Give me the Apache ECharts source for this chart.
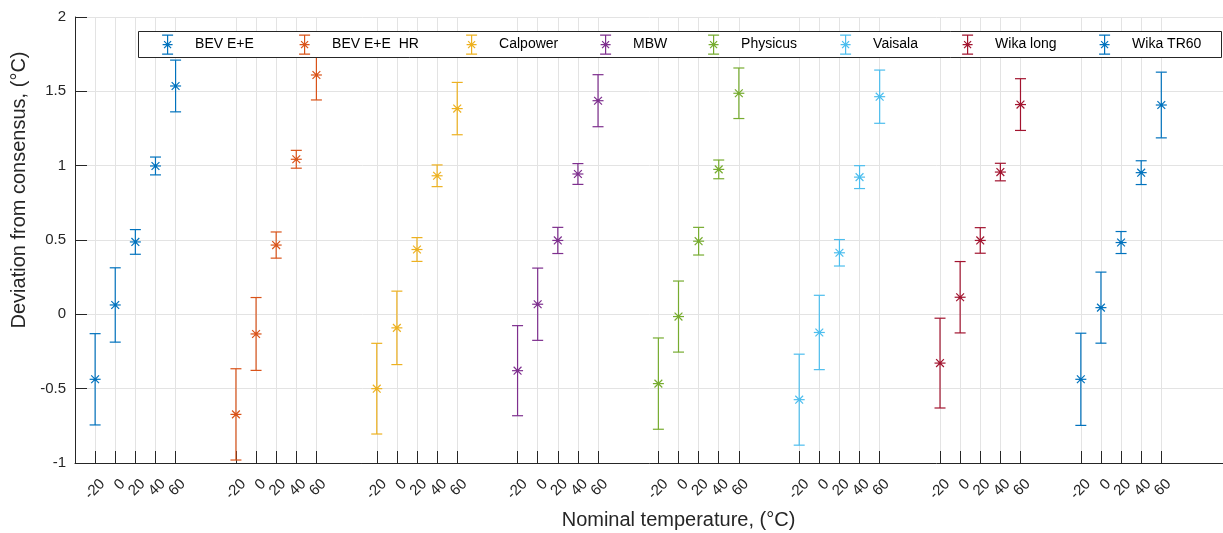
<!DOCTYPE html>
<html><head><meta charset="utf-8">
<script src="https://cdn.jsdelivr.net/npm/echarts@6/dist/echarts.min.js"></script>
<style>html,body{margin:0;padding:0;background:#fff}#c{width:1223px;height:533px}</style>
</head><body><div id="c"></div>
<script>
// ---- data ----
const seriesNames = ['BEV E+E', 'BEV E+E  HR', 'Calpower', 'MBW', 'Physicus', 'Vaisala', 'Wika long', 'Wika TR60'];
const temperatures = ['-20', '0', '20', '40', '60'];
const yTicks = [-1, -0.5, 0, 0.5, 1, 1.5, 2];

const bevEE        = [-0.437, 0.063, 0.487, 0.998, 1.536];
const bevEEErr     = [0.307, 0.250, 0.083, 0.060, 0.174];
const bevEEHR      = [-0.673, -0.132, 0.466, 1.043, 1.610];
const bevEEHRErr   = [0.307, 0.245, 0.088, 0.060, 0.168];
const calpower     = [-0.500, -0.091, 0.436, 0.932, 1.384];
const calpowerErr  = [0.305, 0.247, 0.080, 0.073, 0.176];
const mbw          = [-0.379, 0.068, 0.497, 0.944, 1.437];
const mbwErr       = [0.303, 0.243, 0.088, 0.070, 0.175];
const physicus     = [-0.466, -0.015, 0.492, 0.975, 1.487];
const physicusErr  = [0.307, 0.239, 0.093, 0.063, 0.170];
const vaisala      = [-0.574, -0.122, 0.414, 0.923, 1.464];
const vaisalaErr   = [0.306, 0.250, 0.089, 0.077, 0.179];
const wikaLong     = [-0.328, 0.115, 0.497, 0.957, 1.411];
const wikaLongErr  = [0.302, 0.240, 0.086, 0.059, 0.174];
const wikaTR60     = [-0.437, 0.045, 0.483, 0.953, 1.408];
const wikaTR60Err  = [0.310, 0.239, 0.074, 0.080, 0.221];

const values = [bevEE, bevEEHR, calpower, mbw, physicus, vaisala, wikaLong, wikaTR60];
const errors = [bevEEErr, bevEEHRErr, calpowerErr, mbwErr, physicusErr, vaisalaErr, wikaLongErr, wikaTR60Err];
const colors = ['#0072BD', '#D95319', '#EDB120', '#7E2F8E', '#77AC30', '#4DBEEE', '#A2142F', '#0072BD'];

// ---- x slots: each group = 5 temperatures followed by 2 empty slots ----
const groupStride = 7, xMax = 60;
const slotLabels = {};
const tickSlots = [];
seriesNames.forEach((n, g) => temperatures.forEach((t, k) => {
  const idx = 1 + g * groupStride + k;
  slotLabels[idx] = t; tickSlots.push(idx);
}));
// an empty label at the (off-screen) axis end keeps every real label visible
const labelSlots = tickSlots.concat([xMax]);

// ---- layout / style ----
const legendIconCenters = [167, 304, 471, 605, 713, 845, 967, 1104];
const axisColor = '#262626';
const gridColor = '#e3e3e3';
const font = 'Liberation Sans, Arial, Helvetica, sans-serif';
const iconPath = 'path://M0,0 L11,0 M5.5,0 L5.5,19 M0,19 L11,19 M0.5,9.5 L10.5,9.5 M2,6 L9,13 M9,6 L2,13';

function renderItem(params, api) {
  const x = api.value(0), v = api.value(1), e = api.value(2);
  const c = api.coord([x, v]);
  const t = api.coord([x, v + e]);
  const b = api.coord([x, v - e]);
  const color = api.visual('color');
  const st = { stroke: color, lineWidth: 1.2, fill: null };
  const cap = 5.5, s = 5.5, d = 3.9;
  const L = (x1, y1, x2, y2) => ({ type: 'line', shape: { x1, y1, x2, y2 }, style: st });
  return {
    type: 'group',
    children: [
      L(c[0], t[1], c[0], b[1]),
      L(c[0] - cap, t[1], c[0] + cap, t[1]),
      L(c[0] - cap, b[1], c[0] + cap, b[1]),
      L(c[0] - s, c[1], c[0] + s, c[1]),
      L(c[0] - d, c[1] - d, c[0] + d, c[1] + d),
      L(c[0] + d, c[1] - d, c[0] - d, c[1] + d),
      { type: 'circle', shape: { cx: c[0], cy: c[1], r: 1.6 }, style: { fill: color } }
    ]
  };
}

const series = seriesNames.map((name, g) => ({
  name, type: 'custom', renderItem, z: 2,
  itemStyle: { color: colors[g] },
  encode: { x: 0, y: 1 },
  data: values[g].map((v, k) => [1 + g * groupStride + k, v, errors[g][k]])
}));

const legends = seriesNames.map((name, g) => ({
  data: [{ name, icon: iconPath }],
  left: legendIconCenters[g] - 5.5, top: 34.5, padding: 0, z: 5,
  itemWidth: 11, itemHeight: 19,
  selectedMode: false,
  itemStyle: { color: 'transparent', borderColor: colors[g], borderWidth: 1.2 },
  textStyle: { fontSize: 14, color: '#000', fontFamily: font, padding: [0, 0, 0, 17] }
}));

const option = {
  animation: false,
  color: colors,
  grid: { left: 75, top: 17, width: 1207, height: 446, containLabel: false, outerBoundsMode: 'none' },
  legend: legends,
  graphic: [{
    type: 'rect', z: 3, silent: true,
    shape: { x: 138.5, y: 31.5, width: 1083, height: 26 },
    style: { fill: '#fff', stroke: axisColor, lineWidth: 1 }
  }],
  xAxis: {
    type: 'value', min: 0, max: xMax,
    name: 'Nominal temperature, (°C)', nameLocation: 'middle', nameGap: 47,
    nameTextStyle: { fontSize: 20, color: axisColor, fontFamily: font },
    axisLine: { onZero: false, lineStyle: { color: axisColor, width: 1 } },
    axisTick: { inside: true, length: 12, customValues: tickSlots, lineStyle: { color: axisColor } },
    axisLabel: {
      customValues: labelSlots, formatter: (v) => slotLabels[v] || '',
      rotate: 45, margin: 26, padding: [0, -10.5, 0, 0], hideOverlap: false,
      fontSize: 15, color: axisColor, fontFamily: font
    },
    splitLine: { show: true, lineStyle: { color: gridColor, width: 1 } }
  },
  yAxis: {
    type: 'value', min: yTicks[0], max: yTicks[yTicks.length - 1], interval: 0.5,
    name: 'Deviation from consensus, (°C)', nameLocation: 'middle', nameGap: 44,
    nameTextStyle: { fontSize: 20, color: axisColor, fontFamily: font, padding: [0, 0, 0, 100] },
    axisLine: { show: true, lineStyle: { color: axisColor, width: 1 } },
    axisTick: { show: true, inside: true, length: 12, lineStyle: { color: axisColor } },
    axisLabel: { margin: 9, fontSize: 15, color: axisColor, fontFamily: font },
    splitLine: { show: true, lineStyle: { color: gridColor, width: 1 } }
  },
  series
};

const chart = echarts.init(document.getElementById('c'), null, { renderer: 'canvas' });
chart.setOption(option);
</script>
</body></html>
